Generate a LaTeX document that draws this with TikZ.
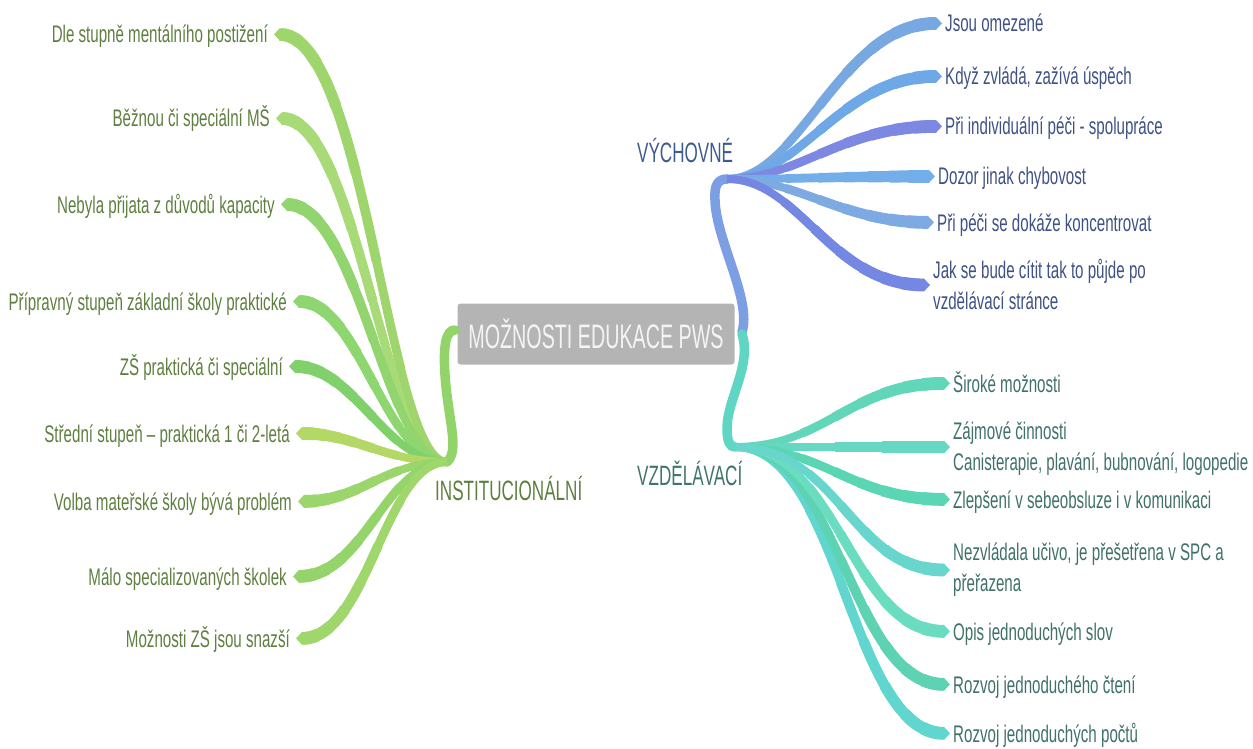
\documentclass[tikz,border=0pt]{standalone}
\usepackage{fontspec}
\setmainfont{Liberation Sans}[FakeStretch=0.63]
\newfontfamily\headfont{Liberation Sans}[FakeStretch=0.61]
\newfontfamily\rootfont{Liberation Sans}[FakeStretch=0.58]
\usetikzlibrary{calc}

% branch colours
\definecolor{g1}{HTML}{9ED56C}
\definecolor{g2}{HTML}{A8DA78}
\definecolor{g3}{HTML}{92D46E}
\definecolor{g4}{HTML}{8DD670}
\definecolor{g5}{HTML}{80D16B}
\definecolor{g6}{HTML}{B4D865}
\definecolor{g7}{HTML}{9AD66B}
\definecolor{g8}{HTML}{95D46A}
\definecolor{g9}{HTML}{9FD76D}
\definecolor{gtrunk}{HTML}{92D46A}
\definecolor{b1}{HTML}{78A8E2}
\definecolor{b2}{HTML}{6FA8E6}
\definecolor{b3}{HTML}{7C88E2}
\definecolor{b4}{HTML}{74AEE8}
\definecolor{b5}{HTML}{7EAAE3}
\definecolor{b6}{HTML}{7487E3}
\definecolor{btrunk}{HTML}{7C9EE2}
\definecolor{t1}{HTML}{62D6B8}
\definecolor{t2}{HTML}{66D7C0}
\definecolor{t3}{HTML}{5AD6B5}
\definecolor{t4}{HTML}{68D6CC}
\definecolor{t5}{HTML}{6ADCC0}
\definecolor{t6}{HTML}{5ED3B4}
\definecolor{t7}{HTML}{60D6CF}
\definecolor{ttrunk}{HTML}{5FD5C4}
% text colours
\definecolor{gtext}{HTML}{5F7F40}
\definecolor{btext}{HTML}{3F5185}
\definecolor{ttext}{HTML}{3F7169}
\definecolor{ghead}{HTML}{5E7F3E}
\definecolor{bhead}{HTML}{3D5B8E}
\definecolor{thead}{HTML}{3F756C}
\definecolor{boxgrey}{HTML}{B4B4B4}
\definecolor{boxtext}{HTML}{F4F4F4}

% Tail of the curve (bJ)..(bA)..(bB)..(bT) from parameter #1 on, stroked #2 wide
\newcommand\branchtail[3]{%
  \coordinate (s01) at ($(bJ)!#1!(bA)$);
  \coordinate (s12) at ($(bA)!#1!(bB)$);
  \coordinate (s23) at ($(bB)!#1!(bT)$);
  \coordinate (s012) at ($(s01)!#1!(s12)$);
  \coordinate (s123) at ($(s12)!#1!(s23)$);
  \coordinate (sM) at ($(s012)!#1!(s123)$);
  \draw[#3, line width=#2] (sM) .. controls (s123) and (s23) .. (bT);
}

% A tapered branch: #1 colour, #2 junction, #3 first control point,
% #4 x of second control point, #5 pointed end, #6 offset from point to stroke end
\newcommand\leafbranch[6]{%
  \coordinate (bJ) at (#2);
  \coordinate (bA) at (#3);
  \coordinate (bP) at (#5);
  \coordinate (bT) at ($(bP)+(#6)$);
  \path (#4,0) coordinate (bX);
  \coordinate (bB) at (bT -| bX);
  \draw[#1, line width=8pt] (bJ) .. controls (bA) and (bB) .. (bT);
  \branchtail{0.3}{8.8pt}{#1}
  \branchtail{0.48}{9.6pt}{#1}
  \branchtail{0.62}{10.4pt}{#1}
  \branchtail{0.74}{11.2pt}{#1}
  \branchtail{0.84}{12pt}{#1}
  \branchtail{0.92}{12.8pt}{#1}
  \fill[#1] ($(bT)+(0,-6.4)$) -- (bP) -- ($(bT)+(0,6.4)$) -- cycle;
}

\begin{document}
\begin{tikzpicture}[x=1pt, y=-1pt,
  leaftext/.style={inner sep=0pt, font=\fontsize{24}{31}\selectfont},
  lefttext/.style={leaftext, anchor=base east, text=gtext},
  uptext/.style={leaftext, text=btext, align=left},
  lowtext/.style={leaftext, text=ttext, align=left},
  headtext/.style={inner sep=0pt, anchor=base west, font=\headfont\fontsize{28}{28}\selectfont},
  trunk/.style={line width=9.5pt, line cap=round}]
\useasboundingbox (0,0) rectangle (1253,749);

% central topic
\node[fill=boxgrey, rounded corners=3pt, minimum width=277pt, minimum height=61pt,
      inner sep=0pt, text=boxtext, font=\rootfont\fontsize{34}{34}\selectfont]
      (root) at (596,334) {MOŽNOSTI EDUKACE PWS};

% main topics
\node[headtext, text=bhead] (vych) at (637,163) {VÝCHOVNÉ};
\node[headtext, text=thead] (vzdel) at (637,485) {VZDĚLÁVACÍ};
\node[headtext, text=ghead] (inst) at (435,500) {INSTITUCIONÁLNÍ};

% branching points
\coordinate (JL) at (447,462);
\coordinate (JU) at (727,179);
\coordinate (JD) at (735,447);
\coordinate (rootL) at (455,330);
\coordinate (rootRu) at (742,332);
\coordinate (rootRd) at (742,334);

% trunks from the central topic
\draw[trunk, gtrunk] (rootL) .. controls (446,330) and (443,345) .. (445,375)
      .. controls (448,420) and (460,450) .. (JL);
\draw[trunk, btrunk] (rootRu) .. controls (752,300) and (716,240) .. (715,200)
      .. controls (714,185) and (718,179) .. (JU);
\draw[trunk, ttrunk] (rootRd) .. controls (752,365) and (727,400) .. (727,428)
      .. controls (727,442) and (730,447) .. (JD);

% institutional branch
\node[lefttext] (L1) at (268,43) {Dle stupně mentálního postižení};
\node[lefttext] (L2) at (270,127) {Běžnou či speciální MŠ};
\node[lefttext] (L3) at (275,213) {Nebyla přijata z důvodů kapacity};
\node[lefttext] (L4) at (287,310) {Přípravný stupeň základní školy praktické};
\node[lefttext] (L5) at (283,375) {ZŠ praktická či speciální};
\node[lefttext] (L6) at (290,442) {Střední stupeň – praktická 1 či 2-letá};
\node[lefttext] (L7) at (292,510) {Volba mateřské školy bývá problém};
\node[lefttext] (L8) at (287,585) {Málo specializovaných školek};
\node[lefttext] (L9) at (290,647) {Možnosti ZŠ jsou snazší};

\leafbranch{g2}{JL}{385,462}{358}{$(L2.base east)+(6,-8.6)$}{6,0}
\leafbranch{g1}{JL}{388,462}{366}{$(L1.base east)+(6,-8.6)$}{6,0}
\leafbranch{g3}{JL}{385,462}{360}{$(L3.base east)+(6,-8.6)$}{6,0}
\leafbranch{g4}{JL}{385,462}{360}{$(L4.base east)+(6,-8.6)$}{6,0}
\leafbranch{g5}{JL}{385,462}{355}{$(L5.base east)+(6,-8.6)$}{6,0}
\leafbranch{g6}{JL}{385,462}{355}{$(L6.base east)+(6,-8.6)$}{6,0}
\leafbranch{g7}{JL}{385,462}{360}{$(L7.base east)+(6,-8.6)$}{6,0}
\leafbranch{g8}{JL}{385,462}{365}{$(L8.base east)+(6,-8.6)$}{6,0}
\leafbranch{g9}{JL}{385,462}{368}{$(L9.base east)+(6,-8.6)$}{6,0}

% educational (upbringing) branch
\node[uptext, anchor=base west] (U1) at (945,32) {Jsou omezené};
\node[uptext, anchor=base west] (U2) at (945,85) {Když zvládá, zažívá úspěch};
\node[uptext, anchor=base west] (U3) at (945,135) {Při individuální péči - spolupráce};
\node[uptext, anchor=base west] (U4) at (938,185) {Dozor jinak chybovost};
\node[uptext, anchor=base west] (U5) at (937,231) {Při péči se dokáže koncentrovat};
\node[uptext, anchor=west] (U6) at (933,284) {Jak se bude cítit tak to půjde po\\vzdělávací stránce};

\leafbranch{b1}{JU}{800,179}{840}{$(U1.base west)+(-3,-8.6)$}{-6,0}
\leafbranch{b2}{JU}{800,179}{840}{$(U2.base west)+(-3,-8.6)$}{-6,0}
\leafbranch{b3}{JU}{800,179}{840}{$(U3.base west)+(-3,-8.6)$}{-6,0}
\leafbranch{b4}{JU}{800,179}{840}{$(U4.base west)+(-3,-8.6)$}{-6,0}
\leafbranch{b5}{JU}{800,179}{840}{$(U5.base west)+(-3,-8.6)$}{-6,0}
\leafbranch{b6}{JU}{800,179}{830}{$(U6.west)+(-3,1)$}{-6,0}

% schooling branch
\node[lowtext, anchor=base west] (D1) at (953,392) {Široké možnosti};
\node[lowtext, anchor=west] (D2) at (953,449) {Zájmové činnosti\\Canisterapie, plavání, bubnování, logopedie};
\node[lowtext, anchor=base west] (D3) at (953,508) {Zlepšení v sebeobsluze i v komunikaci};
\node[lowtext, anchor=west] (D4) at (953,570) {Nezvládala učivo, je přešetřena v SPC a\\přeřazena};
\node[lowtext, anchor=base west] (D5) at (953,640) {Opis jednoduchých slov};
\node[lowtext, anchor=base west] (D6) at (953,693) {Rozvoj jednoduchého čtení};
\node[lowtext, anchor=base west] (D7) at (953,742) {Rozvoj jednoduchých počtů};

\leafbranch{t1}{JD}{825,447}{850}{$(D1.base west)+(-3,-8.6)$}{-6,0}
\leafbranch{t2}{JD}{825,447}{850}{$(D2.west)+(-3,-2)$}{-6,0}
\leafbranch{t3}{JD}{825,447}{850}{$(D3.base west)+(-3,-8.6)$}{-6,0}
\leafbranch{t7}{JD}{840,447}{850}{$(D7.base west)+(-3,-8.6)$}{-6,0}
\leafbranch{t6}{JD}{840,447}{850}{$(D6.base west)+(-3,-8.6)$}{-6,0}
\leafbranch{t5}{JD}{840,447}{850}{$(D5.base west)+(-3,-8.6)$}{-6,0}
\leafbranch{t4}{JD}{840,447}{850}{$(D4.west)+(-3,0)$}{-6,0}
\end{tikzpicture}
\end{document}
